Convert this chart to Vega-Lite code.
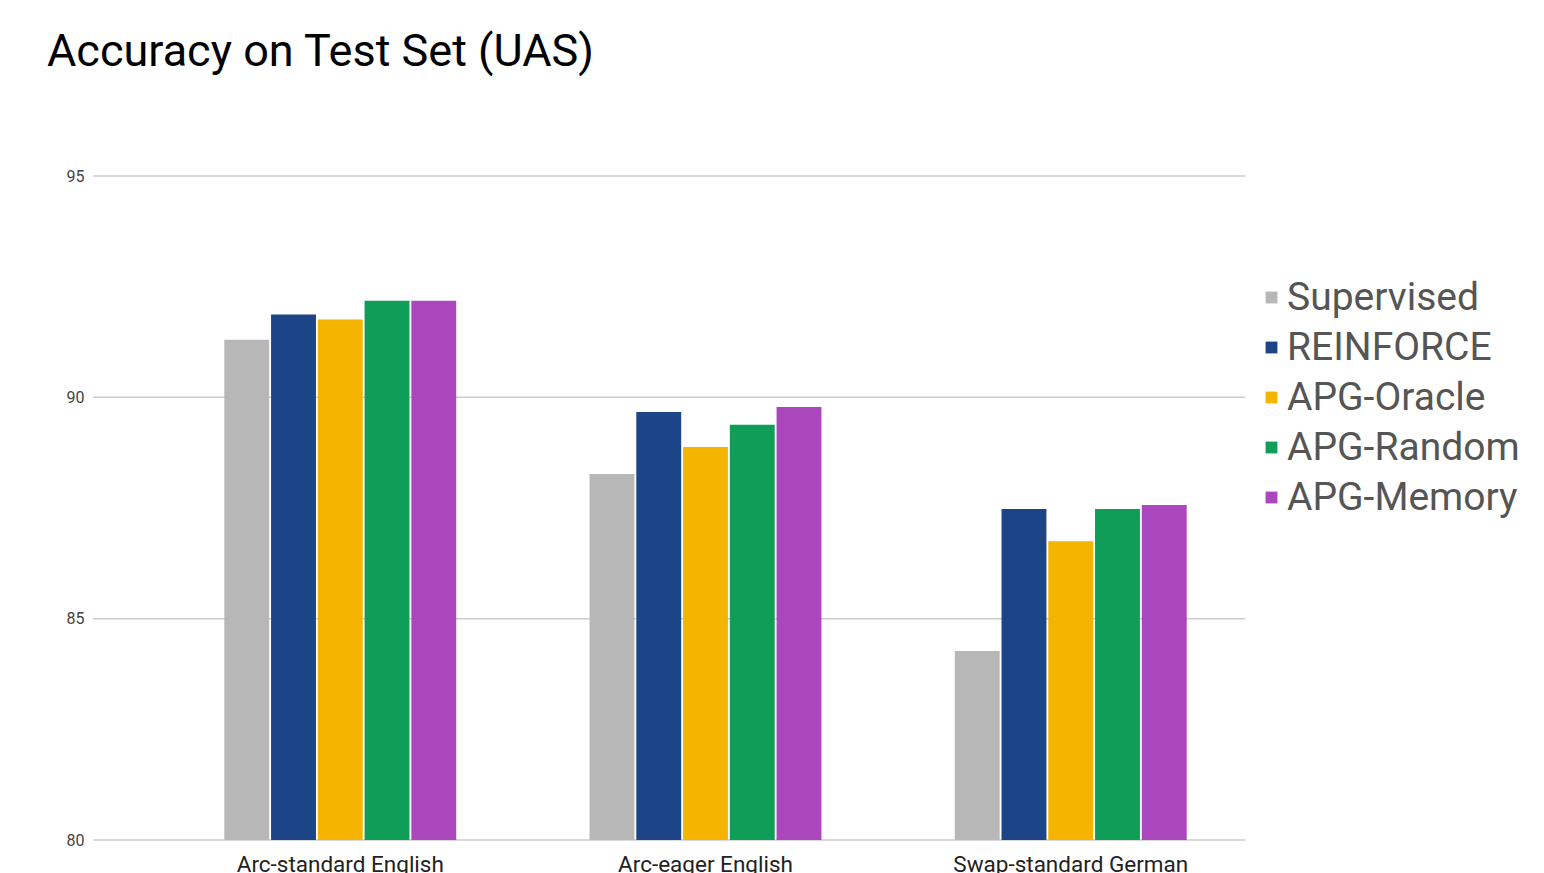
{
  "$schema": "https://vega.github.io/schema/vega-lite/v6.json",
  "width": 1152,
  "height": 664,
  "autosize": "none",
  "padding": {"left": 93, "top": 176, "right": 299, "bottom": 33},
  "background": "white",
  "title": {
    "text": "Accuracy on Test Set (UAS)",
    "anchor": "start",
    "frame": "group",
    "dx": -46,
    "offset": 93,
    "font": "Roboto",
    "fontSize": 45,
    "fontWeight": "normal",
    "color": "#000000"
  },
  "datasets": {
    "scores": [
      {"system": "Arc-standard English", "method": "Supervised", "uas": 91.3},
      {"system": "Arc-standard English", "method": "REINFORCE", "uas": 91.87},
      {"system": "Arc-standard English", "method": "APG-Oracle", "uas": 91.76},
      {"system": "Arc-standard English", "method": "APG-Random", "uas": 92.18},
      {"system": "Arc-standard English", "method": "APG-Memory", "uas": 92.18},
      {"system": "Arc-eager English", "method": "Supervised", "uas": 88.27},
      {"system": "Arc-eager English", "method": "REINFORCE", "uas": 89.67},
      {"system": "Arc-eager English", "method": "APG-Oracle", "uas": 88.88},
      {"system": "Arc-eager English", "method": "APG-Random", "uas": 89.38},
      {"system": "Arc-eager English", "method": "APG-Memory", "uas": 89.78},
      {"system": "Swap-standard German", "method": "Supervised", "uas": 84.27},
      {"system": "Swap-standard German", "method": "REINFORCE", "uas": 87.48},
      {"system": "Swap-standard German", "method": "APG-Oracle", "uas": 86.75},
      {"system": "Swap-standard German", "method": "APG-Random", "uas": 87.48},
      {"system": "Swap-standard German", "method": "APG-Memory", "uas": 87.57}
    ],
    "grid": [{"v": 80}, {"v": 85}, {"v": 90}, {"v": 95}]
  },
  "layer": [
    {
      "data": {"name": "grid"},
      "mark": {"type": "rule", "color": "#cccccc", "strokeWidth": 1.5},
      "encoding": {
        "y": {"field": "v", "type": "quantitative", "scale": {"domain": [80, 95], "zero": false, "nice": false}}
      }
    },
    {
      "data": {"name": "scores"},
      "mark": {"type": "bar", "clip": true},
      "encoding": {
        "x": {
          "field": "system",
          "type": "nominal",
          "sort": ["Arc-standard English", "Arc-eager English", "Swap-standard German"],
          "scale": {"range": [40, 1185], "paddingInner": 0.365, "paddingOuter": 0.25},
          "axis": {
            "title": null,
            "labelAngle": 0,
            "domain": false,
            "ticks": false,
            "grid": false,
            "labelFont": "Roboto",
            "labelFontSize": 22.5,
            "labelColor": "#222222",
            "labelPadding": 13,
            "labelLimit": 400
          }
        },
        "xOffset": {
          "field": "method",
          "type": "nominal",
          "sort": ["Supervised", "REINFORCE", "APG-Oracle", "APG-Random", "APG-Memory"],
          "scale": {"paddingInner": 0.04, "paddingOuter": 0}
        },
        "y": {
          "field": "uas",
          "type": "quantitative",
          "scale": {"domain": [80, 95], "zero": false, "nice": false},
          "axis": {
            "title": null,
            "values": [80, 85, 90, 95],
            "domain": false,
            "ticks": false,
            "grid": false,
            "labelFont": "Roboto",
            "labelFontSize": 16,
            "labelColor": "#444444",
            "labelPadding": 9
          }
        },
        "color": {
          "field": "method",
          "type": "nominal",
          "sort": ["Supervised", "REINFORCE", "APG-Oracle", "APG-Random", "APG-Memory"],
          "scale": {
            "domain": ["Supervised", "REINFORCE", "APG-Oracle", "APG-Random", "APG-Memory"],
            "range": ["#b7b7b7", "#1c4587", "#f4b400", "#0f9d58", "#ab47bc"]
          },
          "legend": {
            "title": null,
            "orient": "none",
            "legendX": 1159,
            "legendY": 102,
            "symbolType": "square",
            "symbolSize": 140,
            "symbolStrokeWidth": 0,
            "labelFont": "Roboto",
            "labelFontSize": 39,
            "labelFontWeight": "normal",
            "labelColor": "#555555",
            "labelOffset": -4,
            "rowPadding": 10,
            "labelLimit": 400
          }
        }
      }
    }
  ],
  "config": {"view": {"stroke": null}}
}
